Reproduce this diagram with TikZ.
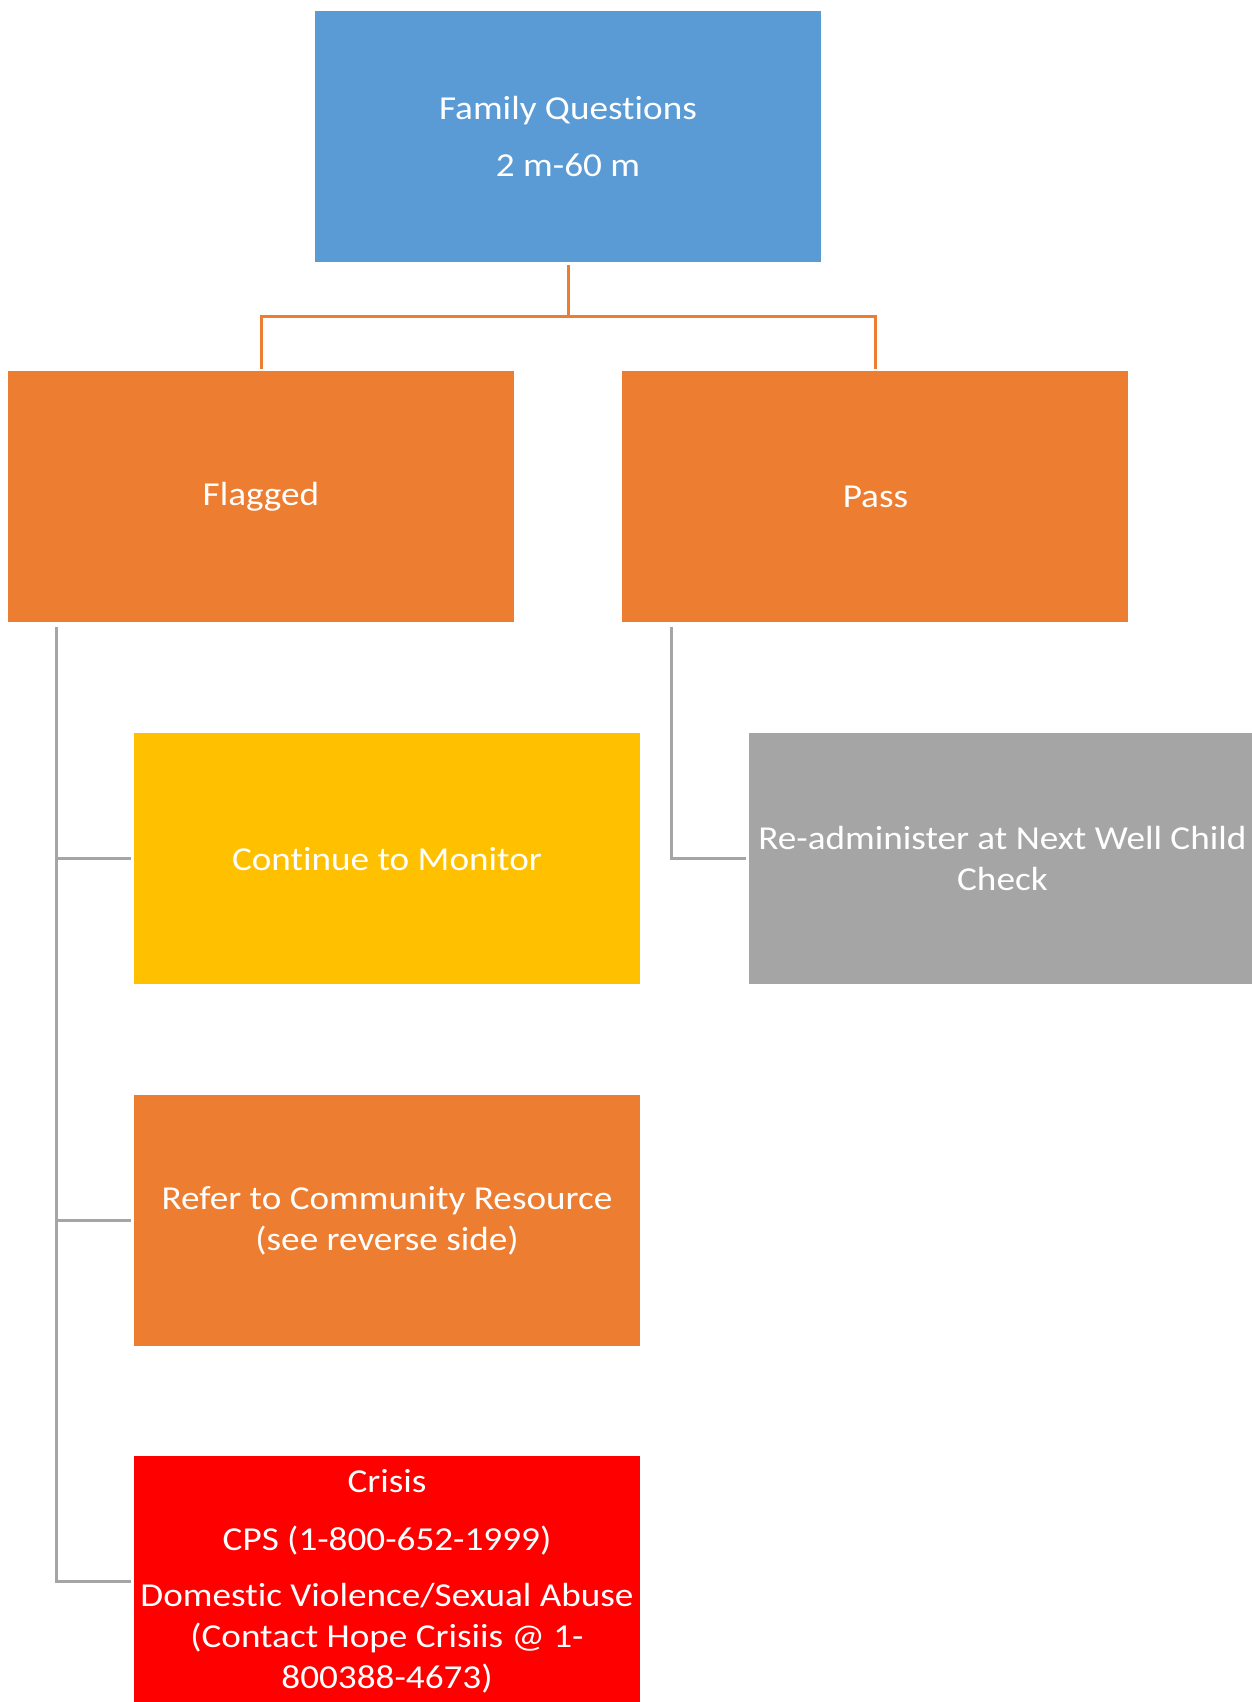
\documentclass[tikz,border=0pt]{standalone}
\usepackage{fontspec}
\setmainfont{Carlito}[FakeStretch=1.11, RawFeature=-liga]
\usepackage{tikz}
\usetikzlibrary{positioning}
\definecolor{fqblue}{HTML}{5B9BD5}
\definecolor{fqorange}{HTML}{ED7D31}
\definecolor{fqyellow}{HTML}{FFC000}
\definecolor{fqgray}{HTML}{A5A5A5}
\definecolor{fqred}{HTML}{FF0000}
\newcommand{\gap}{\\[16pt]}

\begin{document}
\begin{tikzpicture}[x=1pt,y=-1pt,
    box/.style={rectangle, minimum width=506pt, minimum height=251pt, inner sep=0pt,
      text=white, align=center, font=\fontsize{33.5}{41}\selectfont},
    orgline/.style={draw=fqorange, line width=3pt},
    grayline/.style={draw=fqgray, line width=3pt, shorten >=3pt}]
  \useasboundingbox (0,0) rectangle (1252,1702);

  \node (famq) [box, fill=fqblue] at (568,136.5) {Family Questions\gap 2 m-60 m};

  \node (flagged) [box, fill=fqorange] at (261,496.5) {Flagged};
  \node (pass) [box, fill=fqorange, right=108pt of flagged] {Pass};

  \node (monitor) [box, fill=fqyellow, below=111pt of flagged, xshift=126pt] {Continue to Monitor};
  \node (refer) [box, fill=fqorange, below=110pt of monitor] {Refer to Community Resource\\(see reverse side)};
  \node (crisis) [box, fill=fqred, below=110pt of refer] {Crisis\\[17pt]CPS (1-800-652-1999)\\[15pt]Domestic Violence/Sexual Abuse\\(Contact Hope Crisiis @ 1-\\800388-4673)};

  \node (readmin) [box, fill=fqgray, below=111pt of pass, xshift=127pt] {Re-administer at Next Well Child\\Check};

  \draw [orgline] ([yshift=-3pt]famq.south) -- ++(0,51) -| ([yshift=2pt]flagged.north);
  \draw [orgline] ([yshift=-3pt]famq.south) ++(0,51) -| ([yshift=2pt]pass.north);

  \draw [grayline] ([xshift=48.5pt,yshift=-5pt]flagged.south west) |- (monitor.west);
  \draw [grayline] ([xshift=48.5pt,yshift=-5pt]flagged.south west) |- (refer.west);
  \draw [grayline] ([xshift=48.5pt,yshift=-5pt]flagged.south west) |- (crisis.west);
  \draw [grayline] ([xshift=49pt,yshift=-5pt]pass.south west) |- (readmin.west);

\end{tikzpicture}
\end{document}
